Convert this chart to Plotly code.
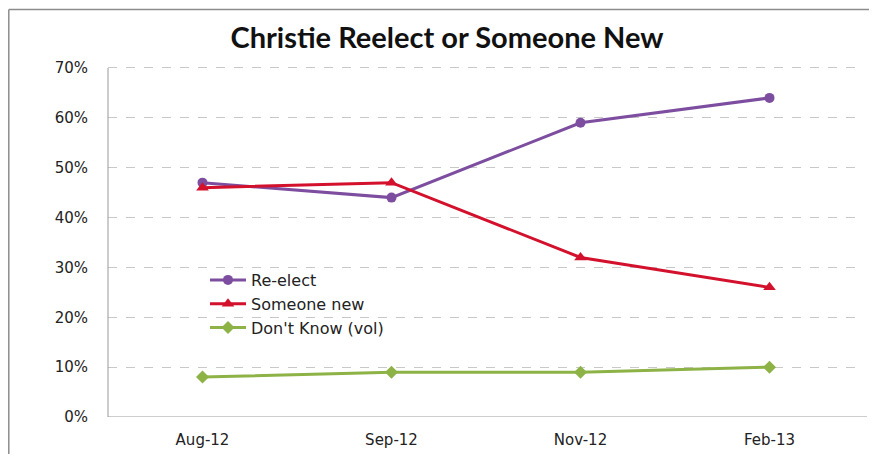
import plotly.graph_objects as go

categories = ["Aug-12", "Sep-12", "Nov-12", "Feb-13"]
reelect = [47, 44, 59, 64]
someone_new = [46, 47, 32, 26]
dont_know = [8, 9, 9, 10]
y_ticks = [0, 10, 20, 30, 40, 50, 60, 70]
y_labels = [f"{v}%" for v in y_ticks]

fig = go.Figure()
fig.add_trace(go.Scatter(x=categories, y=reelect, name="Re-elect", mode="lines+markers",
                         line=dict(color="#7D4E9F", width=3),
                         marker=dict(symbol="circle", size=10, color="#7D4E9F")))
fig.add_trace(go.Scatter(x=categories, y=someone_new, name="Someone new", mode="lines+markers",
                         line=dict(color="#D3112D", width=3),
                         marker=dict(symbol="triangle-up", size=11, color="#D3112D")))
fig.add_trace(go.Scatter(x=categories, y=dont_know, name="Don't Know (vol)", mode="lines+markers",
                         line=dict(color="#8DB246", width=3),
                         marker=dict(symbol="diamond", size=10, color="#8DB246")))

OFF = 8  # page body margin
W, H = 877 - 2 * OFF, 462 - 2 * OFF
# target plot box on the page: x 108..864, y(70%)=68, y(0%)=417 ; range extended to 72
YMAX = 72
unit = (417 - 68) / 70.0
top_px = 417 - YMAX * unit
L = 108 - OFF
T = int(round(top_px - OFF))
B = (H + OFF) - 417
R = (W + OFF) - 864
pw, ph = W - L - R, H - T - B


def px(x):
    return (x - OFF - L) / pw


def py(y):
    return (H - B - (y - OFF)) / ph


fig.update_layout(
    width=W, height=H,
    margin=dict(l=L, r=R, t=T, b=B),
    paper_bgcolor="white", plot_bgcolor="white",
    font=dict(family="DejaVu Sans, sans-serif", color="#222222", size=15),
    title=dict(text="<b>Christie Reelect or Someone New</b>", xref="container",
               x=(447 - OFF) / W, xanchor="center",
               y=1 - (38 - OFF) / H, yanchor="middle",
               font=dict(size=29, color="#111111", family="Lato, sans-serif")),
    xaxis=dict(type="category", range=[-0.5, 3.5], showgrid=False, showline=False,
               ticks="", tickfont=dict(size=15), zeroline=False, ticklabelstandoff=12),
    yaxis=dict(range=[0, YMAX], tickvals=y_ticks, ticktext=y_labels, showgrid=True,
               gridcolor="#C8C8C8", griddash="dash", gridwidth=1, zeroline=False,
               showline=False, ticks="", tickfont=dict(size=15), ticklabelstandoff=19),
    legend=dict(x=px(205), y=py(263), xanchor="left", yanchor="top",
                bgcolor="rgba(0,0,0,0)", font=dict(size=16, family="DejaVu Sans"),
                tracegroupgap=0, itemwidth=36),
    showlegend=True,
)
# left value axis line (from 0% to 70%)
fig.add_shape(type="line", xref="paper", yref="y", x0=0, x1=0, y0=0, y1=y_ticks[-1],
              line=dict(color="#999999", width=1))
# bottom axis line
fig.add_shape(type="line", xref="paper", yref="y", x0=0, x1=px(867), y0=0, y1=0,
              line=dict(color="#999999", width=1))
# outer chart border (left and top edges only are visible in the frame)
fig.add_shape(type="line", xref="paper", yref="paper",
              x0=px(8.8), x1=px(8.8), y0=py(470), y1=py(9.5),
              line=dict(color="#8C8C8C", width=1.5), layer="below")
fig.add_shape(type="line", xref="paper", yref="paper",
              x0=px(8.8), x1=px(880), y0=py(9.5), y1=py(9.5),
              line=dict(color="#8C8C8C", width=1.5), layer="below")

fig.write_html("out.html")
